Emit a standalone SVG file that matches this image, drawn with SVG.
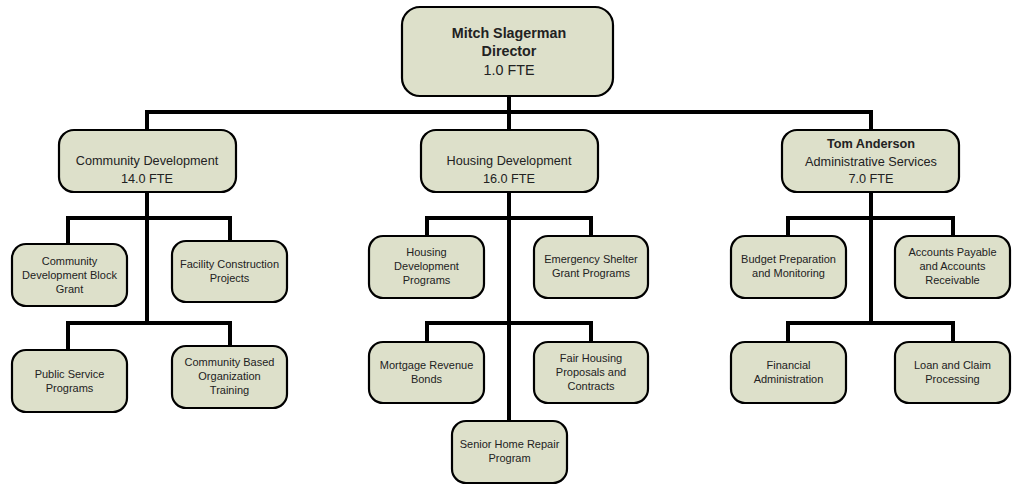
<svg xmlns="http://www.w3.org/2000/svg" width="1016" height="487" viewBox="0 0 1016 487">
<style>
.box{fill:#DDE0CA;stroke:#000;stroke-width:2.2}
.t{font-family:"Liberation Sans",Arial,sans-serif;font-size:12.7px;fill:#222;text-anchor:middle}
.top{font-size:14.3px}
.s{font-family:"Liberation Sans",Arial,sans-serif;font-size:11px;fill:#222;text-anchor:middle}
.b{font-weight:bold}
.c{fill:none;stroke:#000;stroke-width:4}
</style>
<rect width="1016" height="487" fill="#fff"/>
<g id="connectors">
<path class="c" d="M509 96V112M147 112H871M147 110V130M509 110V130M871 110V130"/>
<path class="c" d="M147 192V323M68 244V218H230V241M68 350V323H230V346"/>
<path class="c" d="M509 192V421M427 236V218H591V236M427 342V323H591V342"/>
<path class="c" d="M871 192V323M788 236V218H953V236M788 342V323H953V342"/>
</g>
<g id="director">
<rect class="box" x="402" y="7" width="211" height="89" rx="18"/>
<text class="t top b" x="509" y="38">Mitch Slagerman</text>
<text class="t top b" x="509" y="56">Director</text>
<text class="t top" x="509" y="75">1.0 FTE</text>
</g>
<g id="community-development">
<rect class="box" x="59" y="130" width="177" height="62" rx="15"/>
<text class="t" x="147" y="165">Community Development</text>
<text class="t" x="147" y="183">14.0 FTE</text>
</g>
<g id="housing-development">
<rect class="box" x="421" y="130" width="177" height="62" rx="15"/>
<text class="t" x="509" y="165">Housing Development</text>
<text class="t" x="509" y="183">16.0 FTE</text>
</g>
<g id="admin-services">
<rect class="box" x="782" y="130" width="177" height="62" rx="15"/>
<text class="t b" x="871" y="148">Tom Anderson</text>
<text class="t" x="871" y="166">Administrative Services</text>
<text class="t" x="871" y="183">7.0 FTE</text>
</g>
<g id="cdbg">
<rect class="box" x="12" y="244" width="115" height="62" rx="14"/>
<text class="s" x="69.5" y="265">Community</text>
<text class="s" x="69.5" y="279">Development Block</text>
<text class="s" x="69.5" y="293">Grant</text>
</g>
<g id="facility">
<rect class="box" x="172" y="241" width="115" height="61" rx="14"/>
<text class="s" x="229.5" y="268">Facility Construction</text>
<text class="s" x="229.5" y="282">Projects</text>
</g>
<g id="public-service">
<rect class="box" x="12" y="350" width="115" height="62" rx="14"/>
<text class="s" x="69.5" y="378">Public Service</text>
<text class="s" x="69.5" y="392">Programs</text>
</g>
<g id="cbo-training">
<rect class="box" x="172" y="346" width="115" height="62" rx="14"/>
<text class="s" x="229.5" y="366">Community Based</text>
<text class="s" x="229.5" y="380">Organization</text>
<text class="s" x="229.5" y="394">Training</text>
</g>
<g id="housing-programs">
<rect class="box" x="369" y="236" width="115" height="62" rx="14"/>
<text class="s" x="426.5" y="256">Housing</text>
<text class="s" x="426.5" y="270">Development</text>
<text class="s" x="426.5" y="284">Programs</text>
</g>
<g id="emergency-shelter">
<rect class="box" x="534" y="236" width="114" height="62" rx="14"/>
<text class="s" x="591" y="263">Emergency Shelter</text>
<text class="s" x="591" y="277">Grant Programs</text>
</g>
<g id="mortgage">
<rect class="box" x="369" y="342" width="115" height="61" rx="14"/>
<text class="s" x="426.5" y="369">Mortgage Revenue</text>
<text class="s" x="426.5" y="383">Bonds</text>
</g>
<g id="fair-housing">
<rect class="box" x="534" y="342" width="114" height="61" rx="14"/>
<text class="s" x="591" y="362">Fair Housing</text>
<text class="s" x="591" y="376">Proposals and</text>
<text class="s" x="591" y="390">Contracts</text>
</g>
<g id="senior-repair">
<rect class="box" x="452" y="421" width="115" height="62" rx="14"/>
<text class="s" x="509.5" y="448">Senior Home Repair</text>
<text class="s" x="509.5" y="462">Program</text>
</g>
<g id="budget">
<rect class="box" x="731" y="236" width="115" height="62" rx="14"/>
<text class="s" x="788.5" y="263">Budget Preparation</text>
<text class="s" x="788.5" y="277">and Monitoring</text>
</g>
<g id="accounts">
<rect class="box" x="895" y="236" width="115" height="62" rx="14"/>
<text class="s" x="952.5" y="256">Accounts Payable</text>
<text class="s" x="952.5" y="270">and Accounts</text>
<text class="s" x="952.5" y="284">Receivable</text>
</g>
<g id="financial-admin">
<rect class="box" x="731" y="342" width="115" height="61" rx="14"/>
<text class="s" x="788.5" y="369">Financial</text>
<text class="s" x="788.5" y="383">Administration</text>
</g>
<g id="loan-claim">
<rect class="box" x="895" y="342" width="115" height="61" rx="14"/>
<text class="s" x="952.5" y="369">Loan and Claim</text>
<text class="s" x="952.5" y="383">Processing</text>
</g>
</svg>
